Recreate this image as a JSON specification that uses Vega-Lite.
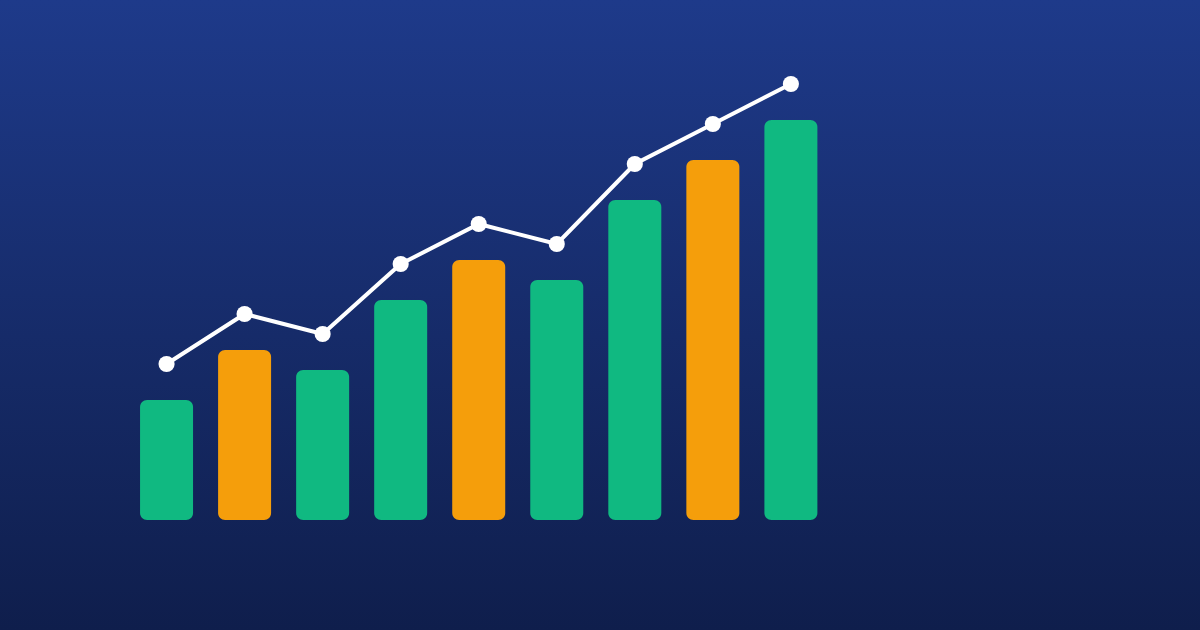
{
  "$schema": "https://vega.github.io/schema/vega-lite/v6.json",
  "width": 1200,
  "height": 630,
  "autosize": {"type": "fit", "contains": "padding"},
  "padding": 0,
  "background": "#15296b",
  "config": {
    "view": {
      "stroke": null,
      "fill": {
        "gradient": "linear",
        "x1": 0, "y1": 0, "x2": 0, "y2": 1,
        "stops": [
          {"offset": 0, "color": "#1e3a8a"},
          {"offset": 1, "color": "#0f1e4c"}
        ]
      }
    }
  },
  "data": {
    "values": [
      {"i": 1, "bar": 120, "line": 156, "kind": "green"},
      {"i": 2, "bar": 170, "line": 206, "kind": "orange"},
      {"i": 3, "bar": 150, "line": 186, "kind": "green"},
      {"i": 4, "bar": 220, "line": 256, "kind": "green"},
      {"i": 5, "bar": 260, "line": 296, "kind": "orange"},
      {"i": 6, "bar": 240, "line": 276, "kind": "green"},
      {"i": 7, "bar": 320, "line": 356, "kind": "green"},
      {"i": 8, "bar": 360, "line": 396, "kind": "orange"},
      {"i": 9, "bar": 400, "line": 436, "kind": "green"}
    ]
  },
  "encoding": {
    "x": {"field": "i", "type": "quantitative", "scale": {"domain": [-1.07, 14.178], "nice": false, "zero": false}, "axis": null}
  },
  "layer": [
    {
      "mark": {"type": "bar", "width": 53, "cornerRadius": 7},
      "encoding": {
        "y": {"field": "bar", "type": "quantitative", "scale": {"domain": [-110, 520], "nice": false, "zero": false}, "axis": null},
        "y2": {"datum": 0},
        "color": {"field": "kind", "type": "nominal", "scale": {"domain": ["green", "orange"], "range": ["#10b981", "#f59e0b"]}, "legend": null}
      }
    },
    {
      "mark": {"type": "line", "color": "white", "strokeWidth": 4},
      "encoding": {
        "y": {"field": "line", "type": "quantitative", "scale": {"domain": [-110, 520], "nice": false, "zero": false}, "axis": null}
      }
    },
    {
      "mark": {"type": "circle", "color": "white", "opacity": 1, "size": 260},
      "encoding": {
        "y": {"field": "line", "type": "quantitative", "scale": {"domain": [-110, 520], "nice": false, "zero": false}, "axis": null}
      }
    }
  ]
}
